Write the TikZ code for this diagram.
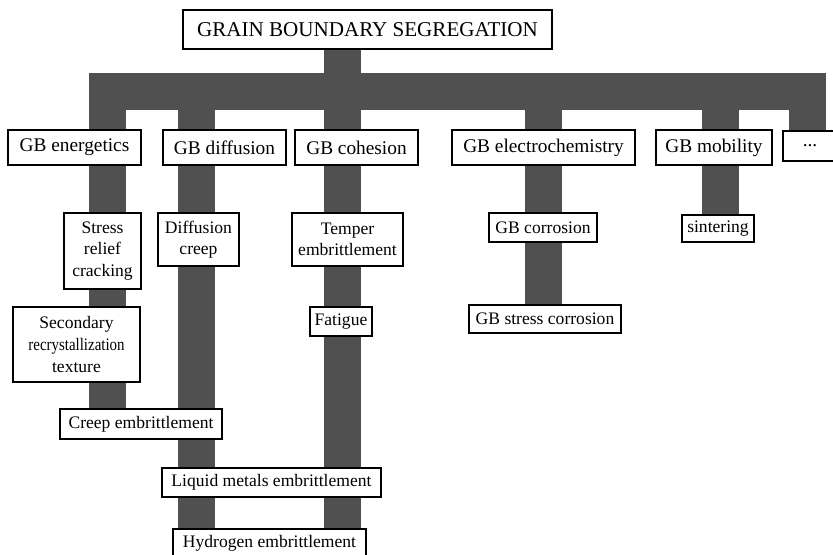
\documentclass[tikz,border=0pt]{standalone}
\usepackage{fontspec}
\setmainfont{Liberation Serif}
\usetikzlibrary{backgrounds}
\definecolor{barcol}{HTML}{505050}
\newdimen\px
\px=0.02cm
\tikzset{
  box/.style={draw, fill=white, line width=0.7pt, inner sep=0pt, align=center,
    font=\fontsize{10}{12.3}\selectfont},
  mainbox/.style={box, minimum height=35\px, font=\fontsize{11}{13}\selectfont},
  bar/.style={draw=barcol, line width=37\px, line join=miter},
}
\begin{document}
\begin{tikzpicture}[x=0.02cm,y=-0.02cm]
    \clip (0,0) rectangle (833,555);

    % Root
    \node[box, minimum width=369\px, minimum height=39\px, font=\fontsize{12}{14}\selectfont] (gbs) at (367.5,29.5) {GRAIN BOUNDARY SEGREGATION};

    % First level
    \node[mainbox, minimum width=133\px] (ener) at (74.5,147.5) {GB energetics};
    \node[mainbox, minimum width=123\px] (diff) at (224.5,147.5) {GB diffusion};
    \node[mainbox, minimum width=123\px] (coh) at (356.5,147.5) {GB cohesion};
    \node[mainbox, minimum width=183\px] (elec) at (543.5,147.5) {GB electrochemistry};
    \node[mainbox, minimum width=116\px] (mob) at (714,147.5) {GB mobility};
    \node[mainbox, minimum width=54\px, minimum height=30\px] (more) at (810,146) {...};

    % Effects
    \node[box, minimum width=77\px, minimum height=76\px] (stress) at (102.5,251) {Stress\\relief\\cracking};
    \node[box, minimum width=81\px, minimum height=53\px] (dcreep) at (198.5,239.5) {Diffusion\\creep};
    \node[box, minimum width=111\px, minimum height=53\px] (temper) at (347.5,239.5) {Temper\\embrittlement};
    \node[box, minimum width=127\px, minimum height=75\px] (second) at (76.5,344.5) {Secondary\\\scalebox{0.85}[1]{recrystallization}\\texture};
    \node[box, minimum width=62\px, minimum height=29\px] (fatigue) at (341,321.5) {Fatigue};
    \node[box, minimum width=108\px, minimum height=29\px] (corr) at (543,227.5) {GB corrosion};
    \node[box, minimum width=72\px, minimum height=27\px] (sinter) at (718,228.5) {sintering};
    \node[box, minimum width=152\px, minimum height=28\px] (scorr) at (545,319) {GB stress corrosion};
    \node[box, minimum width=162\px, minimum height=30\px] (creep) at (141,424) {Creep embrittlement};
    \node[box, minimum width=219\px, minimum height=29\px] (liquid) at (271.5,482.5) {Liquid metals embrittlement};
    \node[box, minimum width=193\px, minimum height=29\px] (hydro) at (269.5,543.5) {Hydrogen embrittlement};

    % Bars behind the boxes
    \coordinate (hubL) at (107.5,91.5);
    \coordinate (hubR) at (807.5,91.5);
    \coordinate (xdiff) at (196.5,91.5);
    \coordinate (xcoh) at (342.5,91.5);
    \coordinate (xelec) at (543.5,91.5);
    \coordinate (xmob) at (720,91.5);
    \begin{scope}[on background layer]
      \draw[bar] (creep.north -| hubL) -- (hubL) -- (hubR) -- (more.north -| hubR);
      \draw[bar] (gbs.south -| xcoh) -- (hydro.north -| xcoh);
      \draw[bar] (xdiff) -- (hydro.north -| xdiff);
      \draw[bar] (xelec) -- (scorr.north -| xelec);
      \draw[bar] (xmob) -- (sinter.north -| xmob);
    \end{scope}
  \end{tikzpicture}
\end{document}
